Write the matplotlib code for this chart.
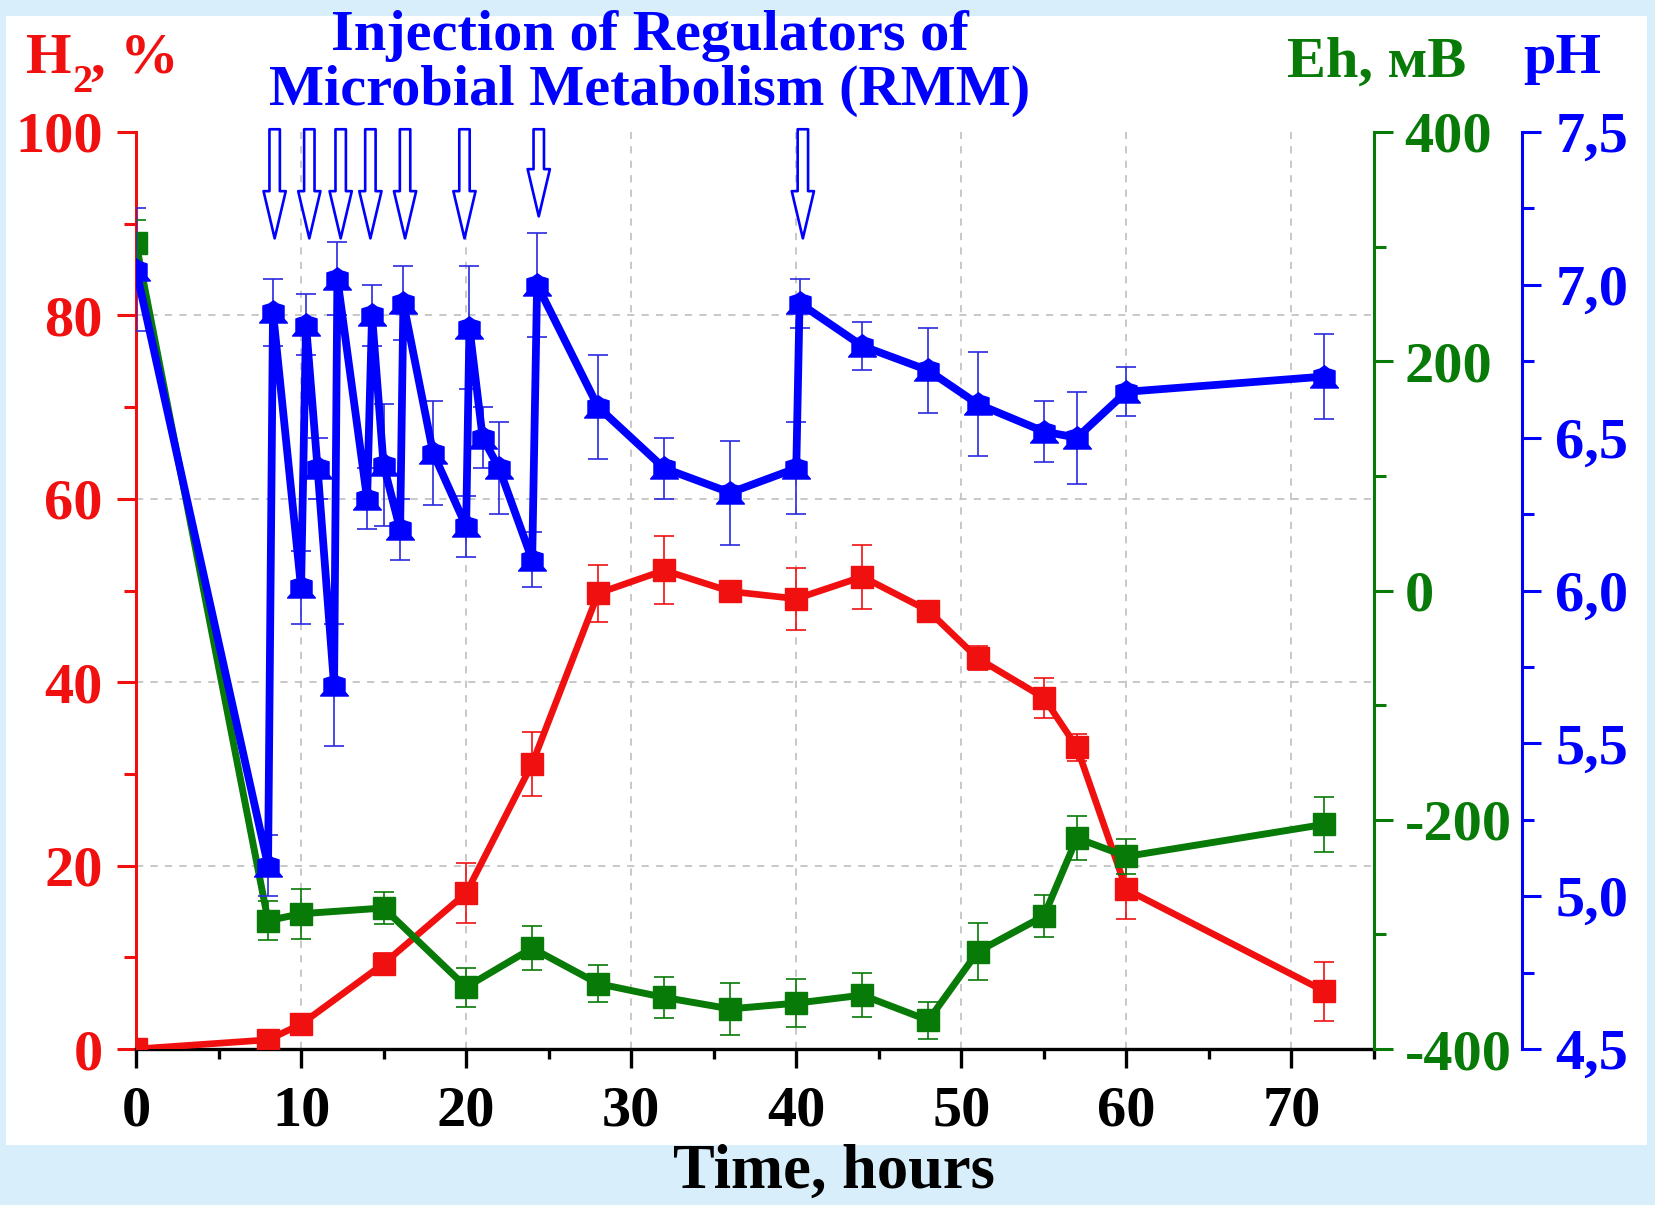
import matplotlib
matplotlib.use('Agg')
import matplotlib.pyplot as plt
from matplotlib.ticker import MultipleLocator, FuncFormatter
from matplotlib.patches import Rectangle
from matplotlib.path import Path

plt.rcParams['font.family'] = ['Liberation Serif', 'DejaVu Serif']
plt.rcParams['font.weight'] = 'bold'
plt.rcParams['axes.unicode_minus'] = False

# ---------------- data ----------------
h2_time = [0, 8, 10, 15, 20, 24, 28, 32, 36, 40, 44, 48, 51, 55, 57, 60, 72]
h2_pct = [0, 1.0, 2.7, 9.3, 17.0, 31.1, 49.7, 52.2, 49.9, 49.1, 51.5, 47.8,
          42.6, 38.3, 32.9, 17.4, 6.3]
h2_err = [0, 0.5, 0.5, 1.2, 3.3, 3.5, 3.1, 3.7, 0.9, 3.4, 3.5, 0.8,
          1.3, 2.2, 1.5, 3.2, 3.2]

eh_time = [0, 8, 10, 15, 20, 24, 28, 32, 36, 40, 44, 48, 51, 55, 57, 60, 72]
eh_mv = [303, -288, -282, -277, -346, -312, -343, -355, -365, -360, -353,
         -375, -315, -284, -216, -232, -204]
eh_err = [20, 17, 22, 14, 17, 19, 16, 18, 23, 21, 19, 16, 25, 18, 19, 15, 24]

ph_time = [0, 8, 8.3, 10, 10.3, 11, 12, 12.2, 14, 14.3, 15, 16, 16.2, 18, 20,
           20.2, 21, 22, 24, 24.3, 28, 32, 36, 40, 40.2, 44, 48, 51, 55, 57,
           60, 72]
ph_val = [7.05, 5.10, 6.91, 6.01, 6.87, 6.40, 5.69, 7.02, 6.30, 6.90, 6.41,
          6.20, 6.94, 6.45, 6.21, 6.86, 6.50, 6.40, 6.10, 7.00, 6.60, 6.40,
          6.32, 6.40, 6.94, 6.80, 6.72, 6.61, 6.52, 6.50, 6.65, 6.70]
ph_err = [0.20, 0.10, 0.11, 0.12, 0.10, 0.10, 0.20, 0.12, 0.10, 0.10, 0.20,
          0.10, 0.12, 0.17, 0.10, 0.20, 0.10, 0.15, 0.09, 0.17, 0.17, 0.10,
          0.17, 0.15, 0.08, 0.08, 0.14, 0.17, 0.10, 0.15, 0.08, 0.14]

injection_time = [8.4, 10.5, 12.4, 14.2, 16.3, 19.9, 24.4, 40.4]

title_lines = ["Injection of Regulators of", "Microbial Metabolism (RMM)"]
xlabel = "Time, hours"
h2_main, h2_sub, h2_rest = "H", "2", ", %"
eh_label = "Eh, мВ"
ph_label = "pH"

# ---------------- style ----------------
RED = '#f01010'
GREEN = '#077a07'
BLUE = '#0000ff'
W, H = 1655, 1205

fig = plt.figure(figsize=(W / 100, H / 100), dpi=100, facecolor='#d8eefb')
fig.patches.append(Rectangle((6 / W, (H - 1145) / H), (1647 - 6) / W,
                             (1145 - 16) / H, transform=fig.transFigure,
                             facecolor='white', edgecolor='none', zorder=-10))

L, R, T, B = 136, 1374, 132, 1049
ax = fig.add_axes([L / W, (H - B) / H, (R - L) / W, (B - T) / H])
ax.patch.set_alpha(0)
ax2 = ax.twinx()
ax3 = ax.twinx()

TS = 42
# main (red) axis
ax.set_xlim(0, 75)
ax.set_ylim(0, 100)
ax.xaxis.set_major_locator(MultipleLocator(10))
ax.xaxis.set_minor_locator(MultipleLocator(5))
ax.yaxis.set_major_locator(MultipleLocator(20))
ax.yaxis.set_minor_locator(MultipleLocator(10))
for s in ['top', 'right']:
    ax.spines[s].set_visible(False)
ax.spines['left'].set_color(RED)
ax.spines['left'].set_linewidth(2.2)
ax.spines['bottom'].set_color('black')
ax.spines['bottom'].set_linewidth(2.4)
ax.tick_params(axis='y', which='both', colors=RED, width=2.2, labelsize=TS, pad=10)
ax.tick_params(axis='y', which='major', length=14)
ax.tick_params(axis='y', which='minor', length=8.5)
ax.tick_params(axis='x', which='both', colors='black', width=2.4, labelsize=TS, pad=12)
ax.tick_params(axis='x', which='major', length=14)
ax.tick_params(axis='x', which='minor', length=7.5)
for lab in ax.get_xticklabels() + ax.get_yticklabels():
    lab.set_fontweight('bold')

grid_kw = dict(color='#c4c4c4', linewidth=1.3, linestyle=(0, (4, 4)), zorder=0)
for yv in [20, 40, 60, 80]:
    ax.axhline(yv, **grid_kw)
for xv in [10, 20, 30, 40, 50, 60, 70]:
    ax.axvline(xv, **grid_kw)

ax.errorbar(h2_time, h2_pct, yerr=h2_err, fmt='none', ecolor=RED,
            elinewidth=1.2, capsize=7, capthick=1.2, zorder=2)
ax.plot(h2_time, h2_pct, color=RED, lw=4.8, marker='s', ms=16,
        mfc=RED, mec=RED, zorder=3)

# green Eh axis
ax2.set_ylim(-400, 400)
ax2.yaxis.set_major_locator(MultipleLocator(200))
ax2.yaxis.set_minor_locator(MultipleLocator(100))
for s in ['top', 'left', 'bottom']:
    ax2.spines[s].set_visible(False)
ax2.spines['right'].set_color(GREEN)
ax2.spines['right'].set_linewidth(2.2)
ax2.tick_params(axis='y', which='both', colors=GREEN, width=2.2, labelsize=TS, pad=8)
ax2.tick_params(axis='y', which='major', length=14)
ax2.tick_params(axis='y', which='minor', length=8.5)
ax2.errorbar(eh_time, eh_mv, yerr=eh_err, fmt='none', ecolor=GREEN,
             elinewidth=1.2, capsize=7, capthick=1.2, zorder=2)
ax2.plot(eh_time, eh_mv, color=GREEN, lw=5.0, marker='s', ms=16,
         mfc=GREEN, mec=GREEN, zorder=3)

# blue pH axis
ax3.set_ylim(4.5, 7.5)
ax3.yaxis.set_major_locator(MultipleLocator(0.5))
ax3.yaxis.set_minor_locator(MultipleLocator(0.25))
ax3.yaxis.set_major_formatter(FuncFormatter(lambda v, p: f"{v:.1f}".replace('.', ',')))
for s in ['top', 'left', 'bottom']:
    ax3.spines[s].set_visible(False)
ax3.spines['right'].set_position(('axes', 1.1195))
ax3.spines['right'].set_color(BLUE)
ax3.spines['right'].set_linewidth(2.2)
ax3.tick_params(axis='y', which='both', colors=BLUE, width=2.2, labelsize=TS, pad=10)
ax3.tick_params(axis='y', which='major', length=14)
ax3.tick_params(axis='y', which='minor', length=8.5)
for a in (ax2, ax3):
    for lab in a.get_yticklabels():
        lab.set_fontweight('bold')

bell = Path([(-0.95, -0.72), (0.95, -0.72), (0.72, -0.45), (0.72, 0.45),
             (0.3, 0.58), (0.0, 0.8), (-0.3, 0.58), (-0.72, 0.45),
             (-0.72, -0.45), (-0.95, -0.72)],
            [Path.MOVETO] + [Path.LINETO] * 8 + [Path.CLOSEPOLY])
ax3.errorbar(ph_time, ph_val, yerr=ph_err, fmt='none', ecolor='#2a2ae0',
             elinewidth=1.2, capsize=7, capthick=1.2, zorder=2)
ax3.plot(ph_time, ph_val, color=BLUE, lw=5.6, marker=bell, ms=20,
         mfc=BLUE, mec=BLUE, zorder=3)

# injection arrows
for i, t in enumerate(injection_time):
    tip = 0.908 if i == 6 else 0.884
    ax3.annotate('', xy=(t, tip), xycoords=('data', 'axes fraction'),
                 xytext=(t, 1.003), textcoords=('data', 'axes fraction'),
                 arrowprops=dict(arrowstyle='simple,head_length=34,head_width=16,tail_width=7.5',
                                 mutation_scale=1, fc='white', ec=BLUE, lw=1.9,
                                 shrinkA=0, shrinkB=0),
                 zorder=5, annotation_clip=False)

# texts
fig.text(650 / W, 1 - 50 / H, title_lines[0], ha='center', va='baseline',
         fontsize=TS, fontweight='bold', color=BLUE)
fig.text(650 / W, 1 - 105 / H, title_lines[1], ha='center', va='baseline',
         fontsize=TS, fontweight='bold', color=BLUE)
fig.text(1287 / W, 1 - 77 / H, eh_label, ha='left', va='baseline',
         fontsize=TS, fontweight='bold', color=GREEN)
fig.text(1523 / W, 1 - 73 / H, ph_label, ha='left', va='baseline',
         fontsize=TS, fontweight='bold', color=BLUE)
fig.text(834 / W, 1 - 1188 / H, xlabel, ha='center', va='baseline',
         fontsize=45, fontweight='bold', color='black')

# H2 label assembled from pieces, laid out with measured extents
renderer = fig.canvas.get_renderer()
t_h = fig.text(26 / W, 1 - 73 / H, h2_main, ha='left', va='baseline',
               fontsize=TS, fontweight='bold', color=RED)
x_after_h = t_h.get_window_extent(renderer).x1
t_s = fig.text((x_after_h + 1) / W, 1 - 92 / H, h2_sub, ha='left', va='baseline',
               fontsize=29, fontweight='bold', color=RED)
x_after_s = t_s.get_window_extent(renderer).x1
fig.text((x_after_s - 2) / W, 1 - 73 / H, h2_rest, ha='left', va='baseline',
         fontsize=TS, fontweight='bold', color=RED)

fig.savefig('out.png', dpi=100, facecolor=fig.get_facecolor())
